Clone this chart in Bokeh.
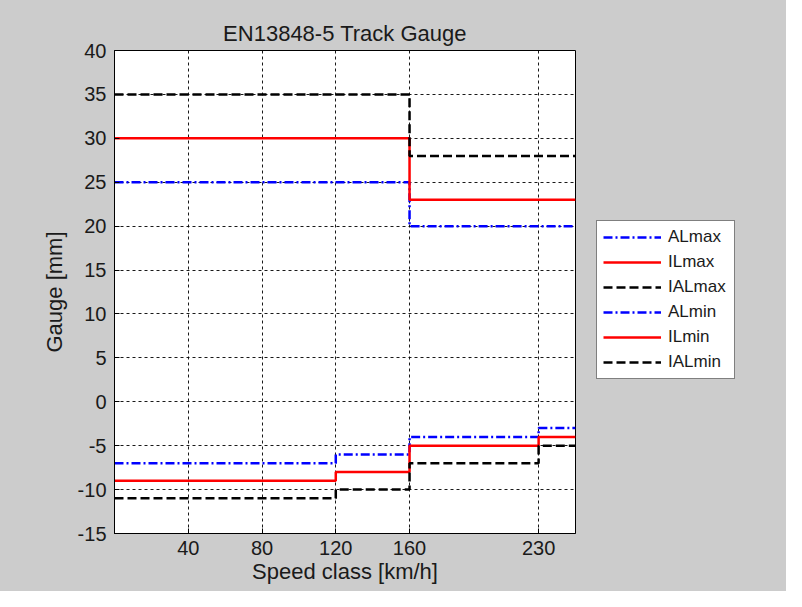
from bokeh.plotting import figure
from bokeh.layouts import row
from bokeh.models import FixedTicker, Range1d, Legend, LegendItem, PrintfTickFormatter
from bokeh.embed import file_html
from bokeh.resources import INLINE

# Data
speed = [0, 120, 160, 230, 250]
ALmax = [25, 25, 20, 20, 20]
ILmax = [30, 30, 23, 23, 23]
IALmax = [35, 35, 28, 28, 28]
ALmin = [-7, -6, -4, -3, -3]
ILmin = [-9, -8, -5, -4, -4]
IALmin = [-11, -10, -7, -5, -5]
x_ticks = [40, 80, 120, 160, 230]
y_ticks = list(range(-15, 41, 5))

FONT = "Liberation Sans"
TXT = "#1a1a1a"
BG = "#cccccc"

p = figure(width=586, height=591, output_backend="svg", toolbar_location=None,
           x_range=Range1d(0, 250), y_range=Range1d(-15, 40),
           min_border_left=114, min_border_right=11, min_border_top=50, min_border_bottom=58,
           background_fill_color="white", border_fill_color=BG,
           title="EN13848-5 Track Gauge")

p.title.align = "center"
p.title.text_font = FONT
p.title.text_font_size = "22px"
p.title.text_font_style = "normal"
p.title.text_color = TXT
p.title.standoff = 9

p.outline_line_color = "black"
p.outline_line_width = 1

for ax in (p.xaxis[0], p.yaxis[0]):
    ax.major_label_text_font = FONT
    ax.major_label_text_font_size = "20px"
    ax.major_label_text_color = TXT
    ax.axis_label_text_font = FONT
    ax.axis_label_text_font_size = "22px"
    ax.axis_label_text_font_style = "normal"
    ax.axis_label_text_color = TXT
    ax.axis_line_color = "black"
    ax.major_tick_line_color = "black"
    ax.major_tick_in = 5
    ax.major_tick_out = 0
    ax.minor_tick_line_color = None

p.xaxis.ticker = FixedTicker(ticks=x_ticks)
p.yaxis.ticker = FixedTicker(ticks=y_ticks)
p.yaxis.formatter = PrintfTickFormatter(format="%d")
p.xaxis.axis_label = "Speed class [km/h]"
p.yaxis.axis_label = "Gauge [mm]"
p.xaxis.major_label_standoff = 7
p.yaxis.major_label_standoff = 8
p.xaxis.axis_label_standoff = 1
p.yaxis.axis_label_standoff = 8

for g in (p.xgrid[0], p.ygrid[0]):
    g.grid_line_color = "black"
    g.grid_line_dash = "3 3"
    g.grid_line_width = 1
    g.grid_line_alpha = 0.9

blue_dash = "9 3 2 3"
black_dash = "9 4"

series = [
    ("ALmax", ALmax, "blue", blue_dash),
    ("ILmax", ILmax, "red", "solid"),
    ("IALmax", IALmax, "black", black_dash),
    ("ALmin", ALmin, "blue", blue_dash),
    ("ILmin", ILmin, "red", "solid"),
    ("IALmin", IALmin, "black", black_dash),
]
for name, ys, col, dash in series:
    p.step(speed, ys, mode="after", line_color=col, line_width=2.5, line_dash=dash)

# Legend panel as its own figure (outside the axes box)
q = figure(width=200, height=591, output_backend="svg", toolbar_location=None,
           x_range=Range1d(0, 1), y_range=Range1d(0, 1),
           x_axis_location=None, y_axis_location=None, min_border=0,
           background_fill_color=None, border_fill_color=BG, outline_line_color=None)
q.xgrid.visible = False
q.ygrid.visible = False
items = []
for name, ys, col, dash in series:
    # proxy renderer placed outside the visible range; only its legend glyph shows
    r = q.line([5, 6], [5, 6], line_color=col, line_width=2.5, line_dash=dash)
    items.append(LegendItem(label=name, renderers=[r]))

lg = Legend(items=items, location=(10, 154))
lg.border_line_color = "black"
lg.border_line_width = 1
lg.background_fill_color = "white"
lg.background_fill_alpha = 1
lg.label_text_font = FONT
lg.label_text_font_size = "17px"
lg.label_text_color = TXT
lg.glyph_width = 58
lg.glyph_height = 20
lg.label_height = 20
lg.label_width = 60
lg.spacing = 5
lg.padding = 6
lg.margin = 0
lg.label_standoff = 7
q.add_layout(lg)

layout = row(p, q, spacing=0, styles={"background-color": BG})
open("out.html", "w").write(file_html(layout, INLINE))
